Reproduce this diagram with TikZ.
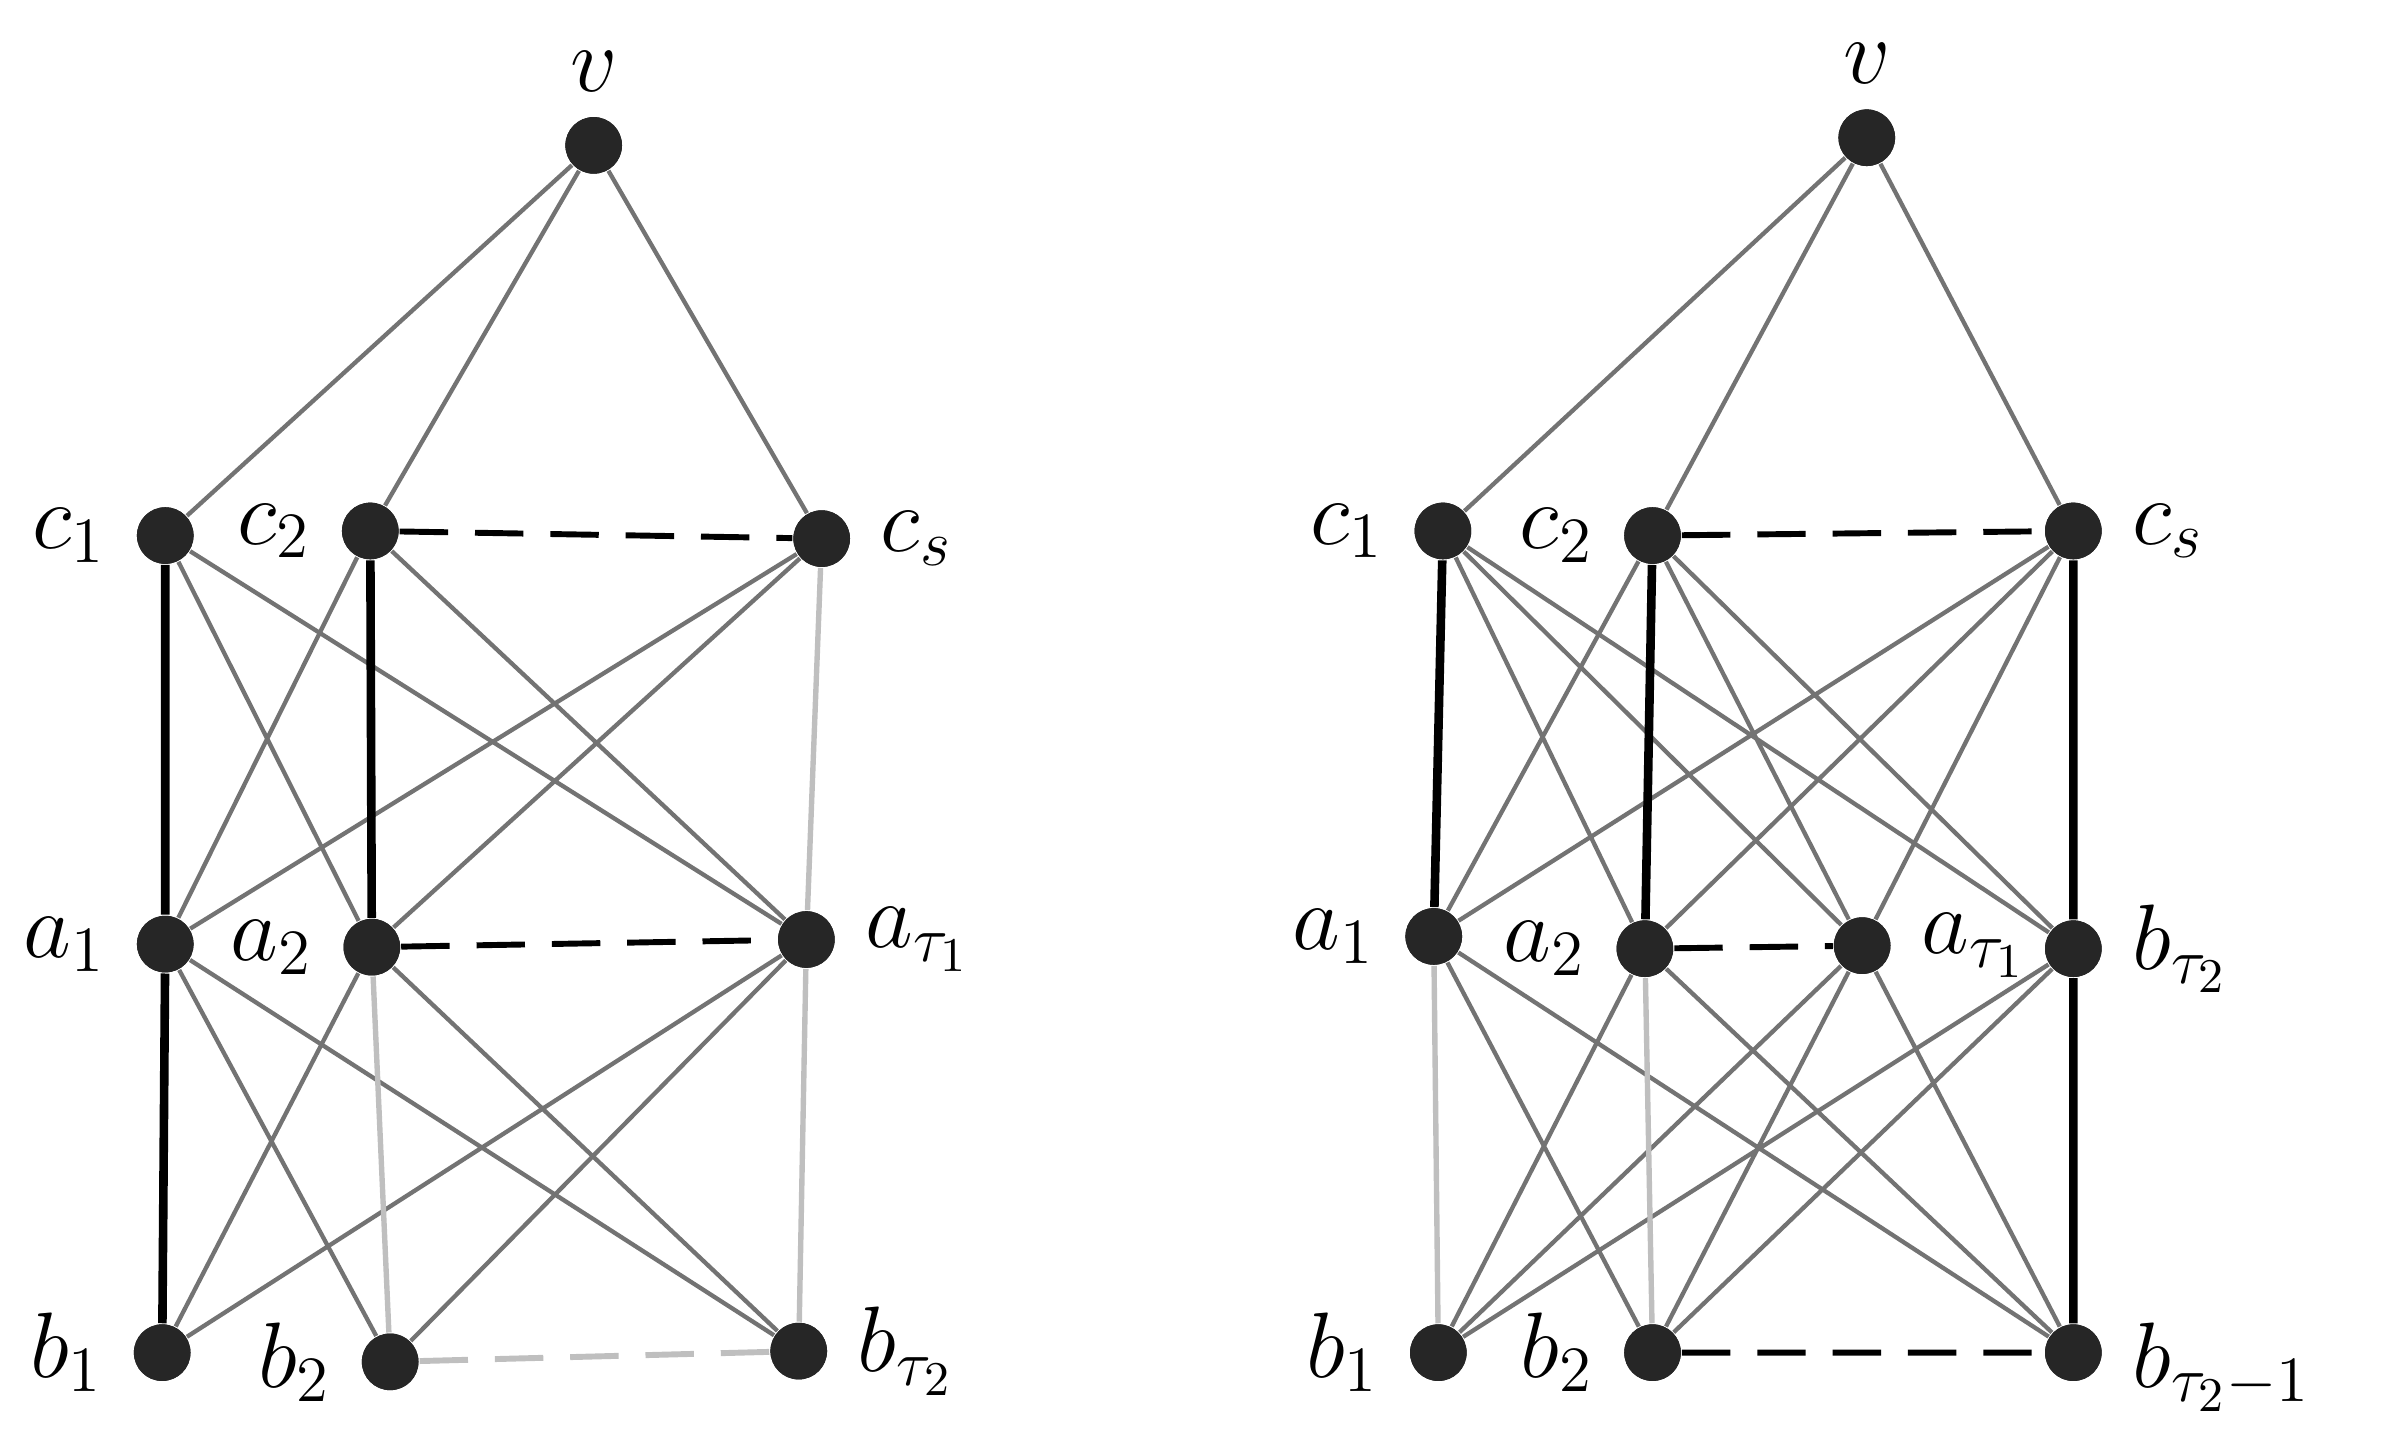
\documentclass[tikz,border=0pt]{standalone}
\begin{document}
\begin{tikzpicture}[x=0.01cm,y=-0.01cm,
  dot/.style={circle,fill=black!85,inner sep=0pt,minimum size=0.37cm},
  lab/.style={font=\fontsize{18}{20}\selectfont},
  e/.style={draw=black!55,line width=0.8pt},
  le/.style={draw=black!25,line width=1pt},
  th/.style={draw=black,line width=1.6pt},
  da/.style={draw=black,line width=1.1pt,dash pattern=on 9pt off 5pt},
  lda/.style={draw=black!25,line width=1.1pt,dash pattern=on 9pt off 5pt}]
\useasboundingbox (0,0) rectangle (1560,942);
% left graph
\node[dot] (v) at (388,95) {};
\node[dot] (c1) at (108,350) {};
\node[dot] (c2) at (242,347) {};
\node[dot] (cs) at (537,352) {};
\node[dot] (a1) at (108,617) {};
\node[dot] (a2) at (243,619) {};
\node[dot] (at) at (527,614) {};
\node[dot] (b1) at (106,884) {};
\node[dot] (b2) at (255,890) {};
\node[dot] (bt) at (522,883) {};
\node[lab,above=1pt] (lv) at (v.north) {$v$};
\node[lab,left=2pt] (l1) at (c1.west) {$c_1$};
\node[lab,left=2pt] (l2) at (c2.west) {$c_2$};
\node[lab,right=2pt] (l3) at (cs.east) {$c_s$};
\node[lab,left=2pt] (l4) at (a1.west) {$a_1$};
\node[lab,left=2pt] (l5) at (a2.west) {$a_2$};
\node[lab,right=2pt] (l6) at (at.east) {$a_{\tau_1}$};
\node[lab,left=2pt] (l7) at (b1.west) {$b_1$};
\node[lab,left=2pt] (l8) at (b2.west) {$b_2$};
\node[lab,right=2pt] (l9) at (bt.east) {$b_{\tau_2}$};
\path[e] (v)--(c1) (v)--(c2) (v)--(cs)
 (c1)--(a2) (c1)--(at) (c2)--(a1) (c2)--(at) (cs)--(a1) (cs)--(a2)
 (a1)--(b2) (a1)--(bt) (a2)--(b1) (a2)--(bt) (at)--(b1) (at)--(b2);
\path[le] (cs)--(at) (a2)--(b2) (at)--(bt);
\path[th] (c1)--(a1) (a1)--(b1) (c2)--(a2);
\path[da] (c2)--(cs) (a2)--(at);
\path[lda] (b2)--(bt);
% right graph
\node[dot] (V) at (1220,90) {};
\node[dot] (C1) at (943,347) {};
\node[dot] (C2) at (1080,350) {};
\node[dot] (CS) at (1355,347) {};
\node[dot] (A1) at (937,612) {};
\node[dot] (A2) at (1075,620) {};
\node[dot] (AT) at (1217,618) {};
\node[dot] (BT) at (1355,620) {};
\node[dot] (B1) at (940,884) {};
\node[dot] (B2) at (1080,884) {};
\node[dot] (BU) at (1355,884) {};
\node[lab,above=1pt] (Lv) at (V.north) {$v$};
\node[lab,left=2pt] (L1) at (C1.west) {$c_1$};
\node[lab,left=2pt] (L2) at (C2.west) {$c_2$};
\node[lab,right=2pt] (L3) at (CS.east) {$c_s$};
\node[lab,left=2pt] (L4) at (A1.west) {$a_1$};
\node[lab,left=2pt] (L5) at (A2.west) {$a_2$};
\node[lab,right=2pt] (L6) at (AT.east) {$a_{\tau_1}$};
\node[lab,right=2pt] (L7) at (BT.east) {$b_{\tau_2}$};
\node[lab,left=2pt] (L8) at (B1.west) {$b_1$};
\node[lab,left=2pt] (L9) at (B2.west) {$b_2$};
\node[lab,anchor=north west] (L10) at ([xshift=2pt,yshift=9pt]BU.east) {$b_{\tau_2-1}$};
\path[e] (V)--(C1) (V)--(C2) (V)--(CS)
 (C1)--(A2) (C1)--(AT) (C1)--(BT) (C2)--(A1) (C2)--(AT) (C2)--(BT)
 (CS)--(A1) (CS)--(A2) (CS)--(AT)
 (A1)--(B2) (A1)--(BU) (A2)--(B1) (A2)--(BU) (AT)--(B1) (AT)--(B2) (AT)--(BU)
 (BT)--(B1) (BT)--(B2);
\path[le] (A1)--(B1) (A2)--(B2);
\path[th] (C1)--(A1) (C2)--(A2) (CS)--(BT) (BT)--(BU);
\path[da] (C2)--(CS) (A2)--(AT) (B2)--(BU);
\foreach \n in {v,c1,c2,cs,a1,a2,at,b1,b2,bt,V,C1,C2,CS,A1,A2,AT,BT,B1,B2,BU}
  \fill[black!85] (\n) circle (0.185cm);
\end{tikzpicture}
\end{document}
